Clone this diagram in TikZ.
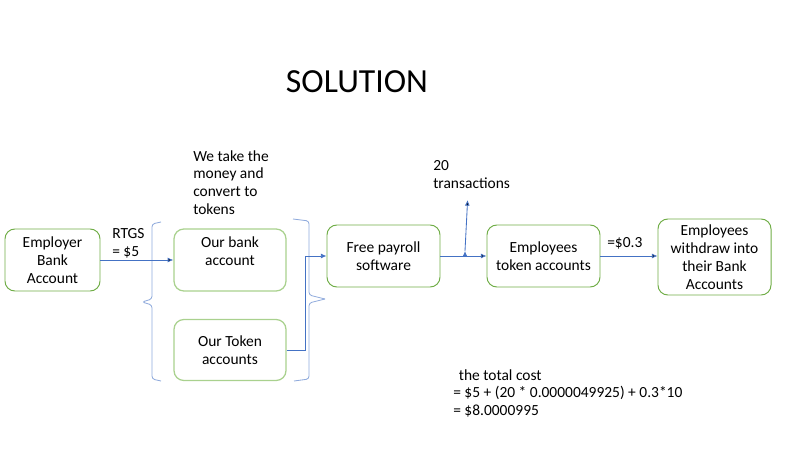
\documentclass[tikz,border=0pt]{standalone}
\usepackage{fontspec}
\setmainfont{Carlito}
\usetikzlibrary{positioning,arrows.meta}
\definecolor{boxgreen}{HTML}{70AD47}
\definecolor{palegreen}{HTML}{A9D18E}
\definecolor{lineblue}{HTML}{4472C4}
\definecolor{braceblue}{HTML}{8FAADC}
\begin{document}
\begin{tikzpicture}[
  box/.style={draw=boxgreen,line width=0.7pt,rounded corners=7pt,minimum width=2.8cm,minimum height=1.55cm,align=center,font=\fontsize{11}{12.75}\selectfont},
  txt/.style={align=left,inner sep=0pt,font=\fontsize{11}{12.75}\selectfont},
  flow/.style={draw=lineblue,line width=0.6pt,-{Latex[length=4pt,width=3.5pt]}},
  brace/.style={draw=braceblue,line width=0.6pt,rounded corners=2pt}]
  \useasboundingbox (0,0) rectangle (20,11.25);
  \node[font=\fontsize{24}{29}\selectfont] (title) at (8.925,9.2) {SOLUTION};
  \node[box,minimum width=2.375cm] (employer) at (1.3125,4.75) {Employer\\Bank\\Account};
  \node[box,draw=palegreen,line width=0.9pt,text depth=0.45cm] (bank) at (5.75,4.75) {Our bank\\account};
  \node[box,draw=palegreen,line width=0.9pt,minimum height=1.525cm] (token) [below of=bank,node distance=2.25cm] {Our Token\\accounts};
  \node[box,minimum width=2.825cm] (payroll) at (9.5875,4.85) {Free payroll\\software};
  \node[box,minimum width=2.825cm] (emptoken) at (13.5875,4.85) {Employees\\token accounts};
  \node[box,minimum width=2.825cm,minimum height=1.9cm] (withdraw) at (17.8625,4.825) {Employees\\withdraw into\\their Bank\\Accounts};
  % labels
  \node[txt,anchor=north west] (rtgs) at (2.8,5.55) {RTGS\\= \$5};
  \node[txt,anchor=north west] (convert) at (4.825,7.5) {We take the\\money and\\convert to\\tokens};
  \node[txt,anchor=north west] (count) at (10.825,7.25) {20\\transactions};
  \node[txt,anchor=west] (fee) at (15.175,5.175) {=\$0.3};
  \node[txt,anchor=north west] (cost) at (11.325,2.025) {\hspace*{4pt}the total cost\\= \$5 + (20 * 0.0000049925) + 0.3*10\\= \$8.0000995};
  % braces
  \draw[brace] (4.025,5.7) -- (3.8,5.65) -- (3.8,3.775) -- (3.55,3.7) -- (3.8,3.625) -- (3.8,1.775) -- (4.025,1.725);
  \draw[brace] (7.325,5.775) -- (7.725,5.725) -- (7.725,3.875) -- (8.125,3.775);
  \draw[brace] (8.125,3.775) -- (7.725,3.675) -- (7.725,1.775) -- (7.35,1.725);
  % connectors
  \coordinate (split) at (11.625,4.975);
  \coordinate (up) at (11.69,6.25);
  \path[flow] (employer) edge (bank.west |- employer)
              (payroll) edge (emptoken)
              (emptoken.east) edge (withdraw.west |- emptoken.east)
              (split) edge (up);
  \draw[flow] (token.east) -- ++(0.475,0) |- (payroll.west);
\end{tikzpicture}
\end{document}
